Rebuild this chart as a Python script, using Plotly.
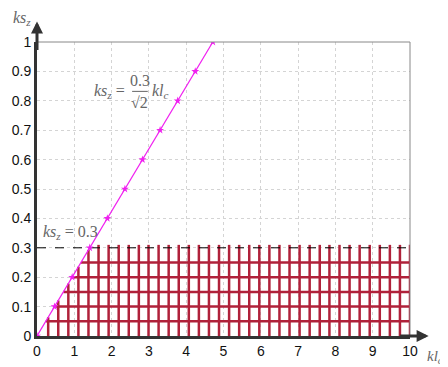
import plotly.graph_objects as go

# magenta line ks_z = 0.3/sqrt(2) * kl_c, star markers
kl_line = [0, 0.471, 0.943, 1.414, 1.886, 2.357, 2.828, 3.300, 3.771, 4.243, 4.714]
ks_line = [0, 0.1, 0.2, 0.3, 0.4, 0.5, 0.6, 0.7, 0.8, 0.9, 1.0]

# red mesh below the line
mesh_kl = [0.30, 0.57, 0.84, 1.11, 1.38, 1.65, 1.92, 2.19, 2.46, 2.73, 2.99, 3.26,
           3.53, 3.80, 4.07, 4.34, 4.61, 4.88, 5.15, 5.42, 5.69, 5.96, 6.23, 6.50,
           6.77, 7.04, 7.31, 7.58, 7.84, 8.11, 8.38, 8.65, 8.92, 9.19, 9.46, 9.73, 10.0]
mesh_ks = [0.05, 0.10, 0.15, 0.20, 0.25]
mesh_top = 0.31
ks_limit = 0.3
slope = 0.3 / 2 ** 0.5

fig = go.Figure()

# verticals, clipped by the line
vx, vy = [], []
for k in mesh_kl:
    vx += [k, k, None]
    vy += [0, min(mesh_top, slope * k), None]
# horizontals, starting where the line crosses
hx, hy = [], []
for s in mesh_ks:
    hx += [s / slope, 10, None]
    hy += [s, s, None]

red = dict(color='#b0213a', width=2.5)
fig.add_trace(go.Scatter(x=hx, y=hy, mode='lines', line=red, hoverinfo='skip'))
fig.add_trace(go.Scatter(x=vx, y=vy, mode='lines', line=red, hoverinfo='skip'))

# ks_z = 0.3 dashed limit
fig.add_trace(go.Scatter(x=[0, 10], y=[ks_limit, ks_limit], mode='lines',
                         line=dict(color='black', width=1, dash='dash'), hoverinfo='skip'))

fig.add_trace(go.Scatter(
    x=kl_line, y=ks_line, mode='lines+markers',
    line=dict(color='#f020f0', width=1.2),
    marker=dict(symbol='star', size=6, color='#f020f0'),
))

serif = dict(family='Liberation Serif', size=16, color='#666666')
ann = []
# axis titles
ann.append(dict(xref='paper', yref='paper', x=-0.012, y=1.04, xanchor='right', yanchor='bottom',
                showarrow=False, text='<i>ks</i><sub><i>z</i></sub>', font=serif))
ann.append(dict(xref='paper', yref='paper', x=1.04, y=-0.035, xanchor='left', yanchor='top',
                showarrow=False, text='<i>kl</i><sub><i>c</i></sub>',
                font=dict(family='Liberation Serif', size=15, color='#666666')))
# equation label
ann.append(dict(x=1.95, y=0.833, showarrow=False, text='<i>ks</i><sub><i>z</i></sub> =',
                font=serif))
ann.append(dict(x=2.76, y=0.868, showarrow=False, text='0.3', font=serif))
ann.append(dict(x=2.76, y=0.795, showarrow=False, text='√2', font=serif))
ann.append(dict(x=3.3, y=0.833, showarrow=False, text='<i>kl</i><sub><i>c</i></sub>',
                font=serif))
ann.append(dict(x=0.12, y=0.352, xanchor='left', showarrow=False,
                text='<i>ks</i><sub><i>z</i></sub> = 0.3', font=serif))
# axis arrows
ann.append(dict(xref='paper', yref='paper', x=0, y=1.07, ax=0, ay=30, text='',
                showarrow=True, arrowhead=2, arrowwidth=3, arrowsize=0.8, arrowcolor='#333333'))
ann.append(dict(xref='paper', yref='paper', x=1.05, y=0, ax=-30, ay=0, text='',
                showarrow=True, arrowhead=2, arrowwidth=3, arrowsize=0.8, arrowcolor='#333333'))

shapes = [
    dict(type='line', x0=2.55, x1=2.97, y0=0.832, y1=0.832, line=dict(color='#666666', width=1)),
    dict(type='line', xref='paper', yref='paper', x0=0, x1=1, y0=1, y1=1,
         line=dict(color='#888888', width=1)),
    dict(type='line', xref='paper', yref='paper', x0=1, x1=1, y0=0, y1=1,
         line=dict(color='#888888', width=1)),
]

axis_common = dict(showline=True, linewidth=3, linecolor='#333333', ticks='',
                   showgrid=True, gridcolor='#d4d4d4', griddash='dot', gridwidth=1,
                   zeroline=False, automargin=False,
                   tickfont=dict(family='Liberation Sans', size=14, color='#111111'))

# page body has an 8px margin, so the figure is offset by 8px
fig.update_layout(
    width=440, height=359,
    margin=dict(l=29, r=38, t=34, b=31),
    paper_bgcolor='white', plot_bgcolor='white',
    showlegend=False,
    xaxis=dict(range=[0, 10], dtick=1, **axis_common),
    yaxis=dict(range=[0, 1], dtick=0.1, **axis_common),
    annotations=ann,
    shapes=shapes,
)

fig.write_html("out.html")
